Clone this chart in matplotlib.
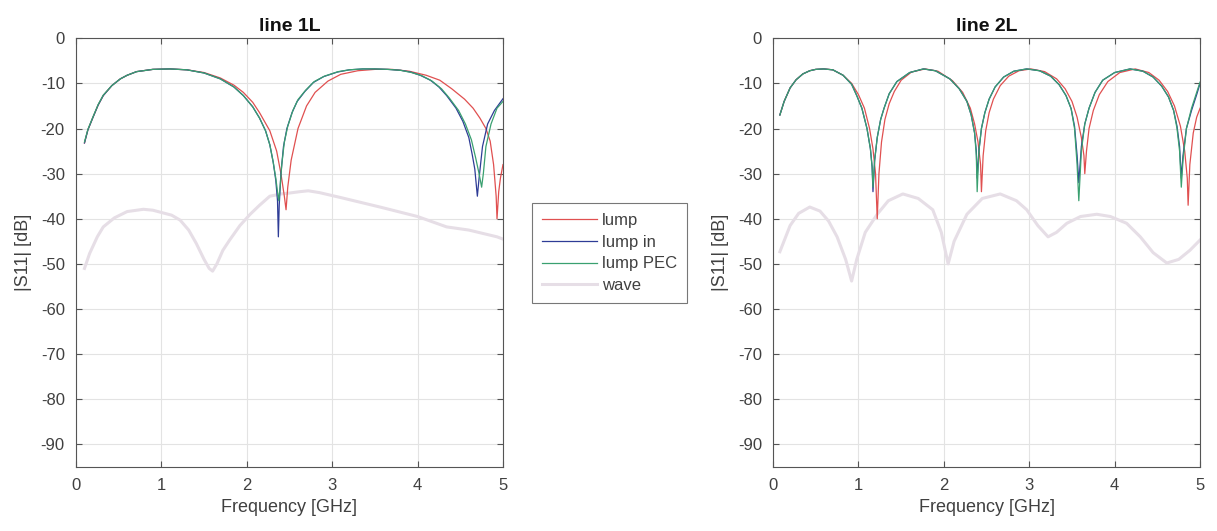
import matplotlib.pyplot as plt

plt.rcParams['font.family'] = ['Liberation Sans', 'DejaVu Sans']
plt.rcParams['axes.unicode_minus'] = False

# ---------------- line 1L ----------------
f_in_1L = [0.1, 0.14, 0.2, 0.26, 0.32, 0.42, 0.52, 0.6, 0.71, 0.9, 1.1, 1.3, 1.5, 1.69, 1.85, 1.96,
           2.07, 2.15, 2.22, 2.27, 2.31, 2.34, 2.36, 2.37, 2.38, 2.40, 2.43, 2.47, 2.53, 2.59, 2.68,
           2.78, 2.9, 3.06, 3.2, 3.36, 3.5, 3.65, 3.8, 3.92, 4.03, 4.15, 4.25, 4.34, 4.45, 4.53,
           4.6, 4.64, 4.67, 4.70, 4.72, 4.76, 4.82, 4.9, 5.0]
s_in_1L = [-23.2, -20.3, -17.5, -14.8, -12.7, -10.5, -9.0, -8.2, -7.4, -6.9, -6.8, -7.0, -7.7, -9.0, -10.8, -12.7,
           -15.2, -17.7, -20.5, -23.6, -27.5, -31.5, -36, -44, -37, -30, -24, -20, -16.5, -14, -11.8,
           -9.8, -8.5, -7.5, -7.0, -6.8, -6.8, -6.9, -7.1, -7.5, -8.2, -9.3, -10.8, -12.7, -15.5, -18.4,
           -22, -25.8, -29, -35, -31, -24, -19, -16, -13.4]

f_pec_1L = [0.1, 0.14, 0.2, 0.26, 0.32, 0.42, 0.52, 0.6, 0.71, 0.9, 1.1, 1.3, 1.5, 1.69, 1.85, 1.96,
            2.07, 2.15, 2.22, 2.27, 2.31, 2.34, 2.36, 2.375, 2.39, 2.41, 2.44, 2.48, 2.54, 2.6, 2.69,
            2.79, 2.91, 3.07, 3.2, 3.36, 3.5, 3.65, 3.8, 3.93, 4.05, 4.17, 4.28, 4.37, 4.48, 4.56,
            4.63, 4.68, 4.72, 4.75, 4.77, 4.8, 4.86, 4.93, 5.0]
s_pec_1L = [-23.0, -20.2, -17.4, -14.7, -12.6, -10.5, -9.0, -8.2, -7.4, -6.9, -6.8, -7.0, -7.7, -9.0, -10.8, -12.7,
            -15.2, -17.7, -20.5, -23.6, -27.5, -31, -34, -36, -33, -28, -23, -19.5, -16, -13.6, -11.5,
            -9.6, -8.4, -7.4, -7.0, -6.8, -6.8, -6.9, -7.1, -7.6, -8.3, -9.5, -11.2, -13.2, -16, -19,
            -22.5, -26.5, -30, -33, -30, -24, -19, -15.5, -14]

f_lump_1L = [0.1, 0.14, 0.2, 0.26, 0.32, 0.42, 0.52, 0.6, 0.71, 0.9, 1.1, 1.3, 1.5, 1.69, 1.85, 1.96,
             2.07, 2.15, 2.27, 2.35, 2.40, 2.44, 2.46, 2.48, 2.52, 2.6, 2.7, 2.8, 2.95, 3.1, 3.3,
             3.5, 3.7, 3.9, 4.1, 4.26, 4.4, 4.55, 4.65, 4.73, 4.8, 4.85, 4.89, 4.92, 4.93, 4.95,
             4.97, 5.0]
s_lump_1L = [-23.2, -20.3, -17.5, -14.8, -12.7, -10.5, -9.0, -8.2, -7.4, -6.9, -6.8, -7.0, -7.6, -8.8, -10.4, -12.0,
             -14.2, -16.5, -20.5, -25, -30, -35, -38, -33, -27, -20, -15, -12, -9.5, -8, -7.2,
             -6.9, -6.9, -7.3, -8.2, -9.3, -11.2, -13.5, -15.5, -17.7, -20, -22.8, -28, -35, -40, -34,
             -31, -28]

f_wave_1L = [0.1, 0.16, 0.25, 0.32, 0.45, 0.6, 0.79, 0.9, 1.0, 1.12, 1.22, 1.32, 1.41, 1.5, 1.56, 1.6, 1.65,
             1.72, 1.8, 1.92, 2.04, 2.15, 2.27, 2.4, 2.5, 2.62, 2.72, 2.85, 3.1, 3.56, 4.0, 4.34,
             4.6, 4.93, 5.0]
s_wave_1L = [-51, -47.7, -44, -41.8, -39.8, -38.4, -37.9, -38.1, -38.6, -39.2, -40.3, -42.5, -45.5, -49, -51, -51.6, -50,
             -47, -44.7, -41.5, -39, -37, -35, -34.5, -34.3, -34, -33.8, -34.2, -35.3, -37.4, -39.5, -41.8,
             -42.5, -44, -44.5]

# ---------------- line 2L ----------------
f_in_2L = [0.08, 0.13, 0.2, 0.27, 0.35, 0.43, 0.5, 0.59, 0.7, 0.82, 0.92, 0.98, 1.04, 1.1, 1.14,
           1.16, 1.17, 1.19, 1.22, 1.26, 1.3, 1.36, 1.45, 1.6, 1.76, 1.9, 2.07, 2.18, 2.27, 2.32,
           2.36, 2.38, 2.39, 2.41, 2.44, 2.48, 2.53, 2.6, 2.7, 2.82, 2.97, 3.12, 3.25, 3.35, 3.43,
           3.49, 3.53, 3.56, 3.58, 3.61, 3.65, 3.7, 3.77, 3.86, 4.0, 4.18, 4.33, 4.45, 4.55, 4.63,
           4.69, 4.73, 4.76, 4.78, 4.8, 4.84, 4.9, 4.96, 5.0]
s_in_2L = [-17, -14, -11, -9.2, -7.9, -7.2, -6.9, -6.8, -7.0, -8.2, -10.2, -12.7, -15.5, -20, -24.5,
           -28.5, -34, -27, -22, -18, -15.5, -12.3, -9.6, -7.6, -6.8, -7.2, -9, -11.2, -14, -17,
           -21, -25, -31, -25, -20, -16.5, -13.5, -10.8, -8.6, -7.3, -6.8, -7.2, -8.4, -10.3, -12.7,
           -15.6, -19.5, -26, -32, -24, -19, -15.5, -12, -9.3, -7.6, -6.8, -7.3, -8.6, -10.6, -13,
           -16, -19.5, -24, -31, -26, -20, -16, -12.5, -10]

f_pec_2L = f_in_2L
s_pec_2L = [-17, -14, -11, -9.2, -7.9, -7.2, -6.9, -6.8, -7.0, -8.2, -10.2, -12.7, -15.5, -20, -24.5,
            -28.5, -33, -27, -22, -18, -15.5, -12.3, -9.6, -7.6, -6.8, -7.2, -9, -11.2, -14, -17,
            -21, -26, -34, -25, -20, -16.5, -13.5, -10.8, -8.6, -7.3, -6.8, -7.2, -8.4, -10.3, -12.7,
            -15.6, -20, -28, -36, -25, -19, -15.5, -12, -9.3, -7.6, -6.8, -7.3, -8.6, -10.6, -13,
            -16, -20, -25, -33, -27, -20, -15.5, -12, -9.7]

f_lump_2L = [0.08, 0.13, 0.2, 0.27, 0.35, 0.43, 0.5, 0.6, 0.7, 0.82, 0.92, 1.0, 1.07, 1.13, 1.17,
             1.2, 1.22, 1.24, 1.27, 1.31, 1.36, 1.42, 1.5, 1.62, 1.78, 1.93, 2.1, 2.22, 2.31, 2.36,
             2.4, 2.43, 2.44, 2.46, 2.49, 2.53, 2.58, 2.66, 2.76, 2.88, 3.02, 3.18, 3.32, 3.42, 3.5,
             3.56, 3.61, 3.64, 3.65, 3.67, 3.7, 3.75, 3.82, 3.92, 4.06, 4.24, 4.4, 4.52, 4.62, 4.7,
             4.77, 4.82, 4.85, 4.86, 4.88, 4.92, 4.96, 5.0]
s_lump_2L = [-17, -14, -11, -9.2, -7.9, -7.2, -6.9, -6.8, -7.0, -8.2, -10, -12.5, -15.5, -20, -24.5,
             -30, -40, -30, -23, -18, -14.5, -11.8, -9.3, -7.5, -6.8, -7.3, -9.4, -12, -15.5, -19,
             -23, -28, -34, -26, -20.5, -16.5, -13.5, -10.5, -8.4, -7.2, -6.8, -7.4, -9, -11.2, -14,
             -17.5, -22, -26, -30, -25, -20, -16, -12.5, -9.6, -7.6, -6.8, -7.6, -9.3, -11.8, -15,
             -19.5, -25, -31, -37, -28, -21, -17.5, -15.5]

f_wave_2L = [0.08, 0.2, 0.3, 0.43, 0.55, 0.65, 0.75, 0.85, 0.92, 0.98, 1.08, 1.22, 1.35, 1.52, 1.7,
             1.87, 1.97, 2.05, 2.12, 2.27, 2.45, 2.66, 2.85, 2.97, 3.1, 3.22, 3.32, 3.44, 3.6, 3.79,
             3.95, 4.14, 4.3, 4.45, 4.61, 4.75, 4.88, 5.0]
s_wave_2L = [-47.3, -41.5, -38.8, -37.4, -38.3, -40.5, -44, -49, -53.8, -49, -43, -39, -36, -34.5, -35.5,
             -38, -43, -50, -45, -39, -35.5, -34.5, -36, -38, -41.5, -44, -43, -41, -39.5, -39,
             -39.5, -41, -44, -47.5, -49.8, -49, -47, -44.7]

labels = ['lump', 'lump in', 'lump PEC', 'wave']
colors = ['#e05050', '#2e3c96', '#3aa070', '#e6dee6']
widths = [0.9, 0.9, 0.9, 2.2]

panels = [
    ('line 1L', [(f_lump_1L, s_lump_1L), (f_in_1L, s_in_1L), (f_pec_1L, s_pec_1L), (f_wave_1L, s_wave_1L)]),
    ('line 2L', [(f_lump_2L, s_lump_2L), (f_in_2L, s_in_2L), (f_pec_2L, s_pec_2L), (f_wave_2L, s_wave_2L)]),
]

fig = plt.figure(figsize=(12.17, 5.31), dpi=100)
ax1 = fig.add_axes([0.0624, 0.1205, 0.3509, 0.8075])
ax2 = fig.add_axes([0.6352, 0.1205, 0.3509, 0.8075])

txt = '#404040'
for ax, (title, series) in zip([ax1, ax2], panels):
    # wave first so the other curves sit on top
    for i in [3, 0, 1, 2]:
        f, s = series[i]
        ax.plot(f, s, color=colors[i], lw=widths[i], label=labels[i], zorder=2 if i == 3 else 3)
    ax.set_xlim(0, 5)
    ax.set_ylim(-95, 0)
    ax.set_xticks([0, 1, 2, 3, 4, 5])
    ax.set_yticks([0, -10, -20, -30, -40, -50, -60, -70, -80, -90])
    ax.grid(True, color='#e3e3e3', lw=0.8)
    ax.set_axisbelow(True)
    ax.tick_params(direction='in', top=True, right=True, length=4, labelsize=12,
                   colors='#555555', labelcolor=txt, pad=8)
    for sp in ax.spines.values():
        sp.set_color('#555555')
        sp.set_linewidth(0.8)
    ax.set_title(title, fontsize=14, fontweight='bold', pad=5, color='#111111')
    ax.set_xlabel('Frequency [GHz]', fontsize=13, color=txt)
    ax.set_ylabel('|S11| [dB]', fontsize=13, color=txt, labelpad=6)

h = {l.get_label(): l for l in ax1.get_lines()}
leg = fig.legend([h[l] for l in labels], labels, loc='upper left',
                 bbox_to_anchor=(532 / 1217, 1 - 203 / 531), borderaxespad=0, fontsize=12,
                 frameon=True, fancybox=False, edgecolor='#555555',
                 handlelength=3.3, labelspacing=0.4, borderpad=0.6, handletextpad=0.3)
leg.get_frame().set_linewidth(0.8)
for t in leg.get_texts():
    t.set_color(txt)

fig.savefig('out.png', dpi=100)
